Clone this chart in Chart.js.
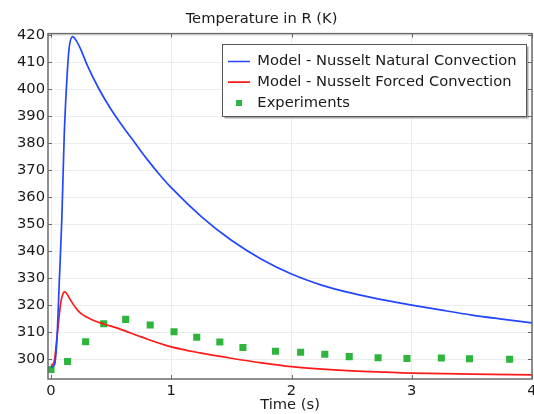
<!DOCTYPE html>
<html>
<head>
<meta charset="utf-8">
<script src="https://cdn.jsdelivr.net/npm/chart.js@4.4.1/dist/chart.umd.min.js"></script>
<style>
  html, body { margin: 0; padding: 0; background: #fff; }
</style>
</head>
<body>
<canvas id="tempChart" width="534" height="414"></canvas>
<script>
// values
const natTime = [0, 0.03, 0.05, 0.07, 0.09, 0.11, 0.13, 0.15, 0.18, 0.21, 0.25, 0.3, 0.4, 0.5, 0.6, 0.7, 0.8, 0.9, 1.0, 1.25, 1.5, 1.75, 2.0, 2.25, 2.5, 2.75, 3.0, 3.25, 3.5, 3.75, 4.0];
const natTemp = [297, 298, 308, 330, 352, 383, 402, 415, 419.5, 418, 414.5, 409, 400, 392.5, 386, 380, 374, 368.5, 363.5, 352.8, 344, 337, 331.5, 327.4, 324.4, 322, 320, 318.1, 316.3, 314.8, 313.4];

const forTime = [0, 0.025, 0.05, 0.08, 0.1, 0.115, 0.13, 0.16, 0.2, 0.25, 0.3, 0.36, 0.44, 0.58, 0.75, 1.0, 1.25, 1.5, 1.75, 2.0, 2.5, 3.0, 3.5, 4.0];
const forTemp = [297.6, 298.8, 308, 320.6, 324.3, 324.9, 324.3, 322, 319.3, 316.8, 315.5, 314.2, 313, 311, 308.2, 304.5, 302.2, 300.3, 298.6, 297.2, 295.6, 294.8, 294.4, 294.1];

const expTime = [0, 0.138, 0.288, 0.438, 0.621, 0.825, 1.023, 1.212, 1.404, 1.596, 1.867, 2.076, 2.277, 2.48, 2.72, 2.96, 3.246, 3.48, 3.814];
const expTemp = [296.1, 299.1, 306.4, 313.1, 314.7, 312.6, 310.1, 308.1, 306.3, 304.3, 302.9, 302.5, 301.8, 300.9, 300.5, 300.2, 300.4, 300.1, 299.9];

const xTicks = [0, 1, 2, 3, 4];
const yTicks = [300, 310, 320, 330, 340, 350, 360, 370, 380, 390, 400, 410, 420];

const FONT = 'DejaVu Sans';
const FSIZE = 14.7;
const LG_PAD = 6, LG_SYM = 22;
const toPts = (xs, ys) => xs.map((x, i) => ({ x: x, y: ys[i] }));
const noPadding = () => ({ left: 0, top: 0, right: 0, bottom: 0 });

// small green square for the legend
const sq = document.createElement('canvas');
sq.width = 6; sq.height = 6;
const sqCtx = sq.getContext('2d');
sqCtx.fillStyle = '#2db53c';
sqCtx.fillRect(0, 0, 6, 6);

let legendBoxW = 300;

// move legend into the top right corner, nudge title centre
const placeBlocks = {
  id: 'placeBlocks',
  afterLayout(chart) {
    const ctx = chart.ctx;
    ctx.save();
    ctx.font = FSIZE + 'px "' + FONT + '"';
    const tw = Math.max(...chart.data.datasets.map(d => ctx.measureText(d.label).width));
    ctx.restore();
    legendBoxW = Math.round(LG_PAD + LG_SYM + FSIZE / 2 + tw + 9);

    const lg = chart.legend, a = chart.chartArea;
    lg.left = a.right - 6 - legendBoxW;
    lg.right = lg.left + legendBoxW;
    lg.top = a.top + 14.5;
    lg.bottom = lg.top + lg.height;
    const tb = chart.titleBlock;
    tb.left = 0;
    tb.right = 523;
    tb.width = 523;
  }
};

const frameAndTicks = {
  id: 'frameAndTicks',
  afterDatasetsDraw(chart) {
    const { ctx, chartArea: a, scales } = chart;
    const sx = scales.x, sy = scales.y;
    ctx.save();
    ctx.strokeStyle = '#6a6a6a';
    ctx.lineWidth = 1;
    ctx.beginPath();
    sx.ticks.forEach(t => {
      const px = Math.round(sx.getPixelForValue(t.value)) + 0.5;
      ctx.moveTo(px, a.bottom); ctx.lineTo(px, a.bottom - 4);
      ctx.moveTo(px, a.top); ctx.lineTo(px, a.top + 4);
    });
    sy.ticks.forEach(t => {
      const py = Math.round(sy.getPixelForValue(t.value)) + 0.5;
      ctx.moveTo(a.left, py); ctx.lineTo(a.left + 4, py);
      ctx.moveTo(a.right, py); ctx.lineTo(a.right - 4, py);
    });
    ctx.stroke();
    ctx.lineWidth = 1.5;
    ctx.strokeRect(a.left, a.top, a.right - a.left, a.bottom - a.top);

    // legend frame with shadow, then the legend on top
    const lg = chart.legend;
    const y0 = lg.top + LG_PAD;
    const bx = Math.round(lg.left) + 0.5;
    const by = Math.round(y0 - 9.75) + 0.5;
    const bh = 72;
    ctx.fillStyle = 'rgba(0,0,0,0.35)';
    ctx.fillRect(bx + 2, by + 2, legendBoxW, bh);
    ctx.fillStyle = '#fff';
    ctx.fillRect(bx, by, legendBoxW, bh);
    ctx.strokeStyle = '#555';
    ctx.lineWidth = 1;
    ctx.strokeRect(bx, by, legendBoxW, bh);
    ctx.restore();
    lg.draw();
  }
};

new Chart(document.getElementById('tempChart'), {
  type: 'scatter',
  data: {
    datasets: [
      {
        label: 'Model - Nusselt Natural Convection',
        data: toPts(natTime, natTemp),
        showLine: true,
        borderColor: '#2347ff',
        backgroundColor: '#2347ff',
        borderWidth: 1.7,
        pointRadius: 0,
        pointStyle: 'line',
        cubicInterpolationMode: 'monotone'
      },
      {
        label: 'Model - Nusselt Forced Convection',
        data: toPts(forTime, forTemp),
        showLine: true,
        borderColor: '#ff1a1a',
        backgroundColor: '#ff1a1a',
        borderWidth: 1.7,
        pointRadius: 0,
        pointStyle: 'line',
        cubicInterpolationMode: 'monotone'
      },
      {
        label: 'Experiments',
        data: toPts(expTime, expTemp),
        showLine: false,
        pointStyle: 'rect',
        pointRadius: 5,
        pointBorderWidth: 0,
        pointBackgroundColor: '#2db53c',
        backgroundColor: '#2db53c',
        borderColor: '#2db53c'
      }
    ]
  },
  options: {
    responsive: false,
    animation: false,
    events: [],
    layout: { autoPadding: false, padding: { left: 0, right: 2, top: 0, bottom: 0 } },
    plugins: {
      title: {
        display: true,
        text: 'Temperature in R (K)',
        color: '#1a1a1a',
        font: { family: FONT, size: FSIZE, weight: 'normal' },
        padding: { top: 10, bottom: 6 }
      },
      legend: {
        position: 'chartArea',
        align: 'start',
        labels: {
          usePointStyle: true,
          pointStyleWidth: LG_SYM,
          padding: LG_PAD,
          color: '#1a1a1a',
          font: { family: FONT, size: FSIZE },
          generateLabels(chart) {
            const items = Chart.defaults.plugins.legend.labels.generateLabels(chart);
            items[2].pointStyle = sq;
            return items;
          }
        }
      },
      tooltip: { enabled: false }
    },
    scales: {
      x: {
        type: 'linear',
        min: -0.025,
        max: 4,
        afterFit(scale) {
          scale.height = 35;
          scale.paddingLeft = 0;
          scale.paddingRight = 0;
          scale.getPadding = noPadding;
        },
        afterBuildTicks(scale) { scale.ticks = xTicks.map(v => ({ value: v })); },
        grid: { color: '#ececec', drawTicks: false },
        border: { display: false },
        ticks: {
          padding: 3,
          maxRotation: 0,
          color: '#1a1a1a',
          font: { family: FONT, size: FSIZE }
        },
        title: {
          display: true,
          text: 'Time (s)',
          color: '#1a1a1a',
          font: { family: FONT, size: FSIZE },
          padding: { top: 0, bottom: 0 }
        }
      },
      y: {
        type: 'linear',
        min: 292.6,
        max: 420.6,
        afterFit(scale) { scale.width = 48; },
        afterBuildTicks(scale) { scale.ticks = yTicks.map(v => ({ value: v })); },
        grid: { color: '#ececec', drawTicks: false },
        border: { display: false },
        ticks: {
          padding: 3,
          color: '#1a1a1a',
          font: { family: FONT, size: FSIZE }
        }
      }
    }
  },
  plugins: [placeBlocks, frameAndTicks]
});
</script>
</body>
</html>
